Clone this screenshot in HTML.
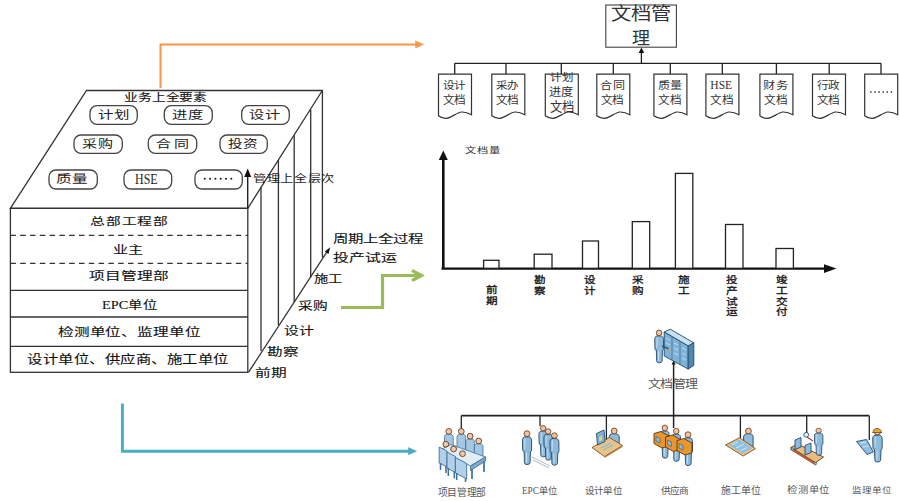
<!DOCTYPE html>
<html lang="zh-CN"><head><meta charset="utf-8">
<style>
html,body{margin:0;padding:0;background:#fff;}
body{width:900px;height:501px;overflow:hidden;position:relative;}
svg{position:absolute;left:0;top:0;}
.sf{font-family:"Liberation Serif",serif;}
.ss{font-family:"Liberation Sans",sans-serif;}
</style></head><body>
<svg width="900" height="501" viewBox="0 0 900 501">
<defs>
  <marker id="ah" markerWidth="8" markerHeight="8" refX="7" refY="4" orient="auto" markerUnits="userSpaceOnUse">
    <path d="M0,0 L8,4 L0,8 z" fill="#000"/>
  </marker>

  <g id="per">
    <path d="M2.6,6.3 C1,6.8 0.4,8.2 0.4,10.3 L0.7,19.8 C0.9,20.8 1.6,21.2 2.1,20.8 L2.4,31.8 C2.4,33.3 3.4,34.2 5,34 L7,33.6 C7.8,33.1 8,32.2 8,31 L8.3,21 C8.8,21.3 9.4,20.5 9.4,19.5 L9.4,10.3 C9.4,8.3 8.8,6.9 6.9,6.3 Z" fill="#8EBBDB" stroke="#1F4566" stroke-width="0.9"/>
    <path d="M3,8 L2.6,19 M4.5,22 L4.3,32" stroke="#C9E2F2" stroke-width="0.9" fill="none"/>
    <circle cx="4.9" cy="3.2" r="2.9" fill="#F3C39C" stroke="#5A3420" stroke-width="0.8"/>
  </g>
  <g id="head">
    <circle cx="0" cy="0" r="2.8" fill="#F3C39C" stroke="#5A3420" stroke-width="0.8"/>
  </g>
</defs>

<!-- ========== colored connector arrows ========== -->
<g fill="none" stroke-linejoin="miter">
  <path d="M160.5,88 V44.4 H417" stroke="#F79646" stroke-width="2"/>
  <path d="M415.5,40.9 L423.5,44.4 L415.5,47.9 Z" fill="#F79646" stroke="#F79646" stroke-width="0.6"/>
  <path d="M341,307.5 H382.5 V275.5 H420" stroke="#9BBB59" stroke-width="3.2"/>
  <path d="M412,270.5 L421.5,275.5 L412,280.5" stroke="#9BBB59" stroke-width="3.2"/>
  <path d="M122.4,403.5 V451.2 H410" stroke="#4BACC6" stroke-width="2.9"/>
  <path d="M408.5,447.6 L416.5,451.2 L408.5,454.8 Z" fill="#4BACC6" stroke="#4BACC6" stroke-width="0.6"/>
</g>

<!-- ========== cube ========== -->
<g fill="none" stroke="#333" stroke-width="1.3">
  <path d="M86.5,90.5 H322.3 L247.8,208.3 H10.4 Z"/>
  <rect x="10.4" y="208.3" width="237.4" height="164"/>
  <path d="M10.4,235.4 H247.8 M10.4,263.3 H247.8" stroke-dasharray="5.5,4.3"/>
  <path d="M10.4,290.3 H247.8 M10.4,317 H247.8 M10.4,346.3 H247.8"/>
  <path d="M261,187.3 V351 M278.4,160 V325 M294.2,135.5 V302.6 M310.7,109.5 V277.5 M322.4,91 V257.5"/>
  <path d="M248.5,372.3 L327.5,251"/>
</g>
<path d="M330.2,247.3 L328.5,253.9 L324.8,251.5 z" fill="#111"/>
<path d="M247.7,208 V174" stroke="#222" stroke-width="1.4"/>
<path d="M244.2,177 L247.7,168.5 L251.2,177 z" fill="#111"/>

<!-- ovals on top face -->
<g fill="none" stroke="#444" stroke-width="1.3">
  <rect x="90" y="105.7" width="47.3" height="18.6" rx="7"/>
  <rect x="164.3" y="105.7" width="48" height="18.6" rx="7"/>
  <rect x="241.7" y="105.7" width="47.6" height="18.6" rx="7"/>
  <rect x="74" y="135" width="48.3" height="18.3" rx="7"/>
  <rect x="148.3" y="135" width="48.4" height="18.3" rx="7"/>
  <rect x="220" y="135" width="47.3" height="18.3" rx="7"/>
  <rect x="49" y="170" width="48.3" height="19" rx="7"/>
  <rect x="124" y="170" width="47.7" height="19" rx="7"/>
  <rect x="195" y="170" width="47.3" height="19" rx="7"/>
</g>


<!-- front face text -->

<!-- ========== top doc hierarchy ========== -->
<g fill="none" stroke="#222" stroke-width="1.3">
  <rect x="605.8" y="5" width="70.6" height="42.2" stroke="#444" stroke-width="1.1"/>
  <path d="M454.7,63.3 H881 M641.4,63.3 V52"/>
  <path d="M454.7,63.3 V74 M506,63.3 V74 M561.3,63.3 V74 M613.3,63.3 V74 M670.3,63.3 V74 M722.3,63.3 V74 M776.4,63.3 V74 M829.2,63.3 V74 M881,63.3 V74"/>
</g>
<path d="M638.6,53 L641.4,47.6 L644.2,53 z" fill="#111"/>
<g fill="#fff" stroke="#333" stroke-width="1.2">
<path d="M438.5,74.2 H471.5 V114.7 C468.5,113 465.5,111.8 461.5,112 C456.5,112.5 451.5,118 446.5,118.3 C443.5,118.5 440.5,117.3 438.5,115.7 Z"/>
<path d="M491.8,74.2 H524.8 V114.7 C521.8,113 518.8,111.8 514.8,112 C509.8,112.5 504.8,118 499.8,118.3 C496.8,118.5 493.8,117.3 491.8,115.7 Z"/>
<path d="M545.3,74.2 H578.3 V114.7 C575.3,113 572.3,111.8 568.3,112 C563.3,112.5 558.3,118 553.3,118.3 C550.3,118.5 547.3,117.3 545.3,115.7 Z"/>
<path d="M596.8,74.2 H629.8 V114.7 C626.8,113 623.8,111.8 619.8,112 C614.8,112.5 609.8,118 604.8,118.3 C601.8,118.5 598.8,117.3 596.8,115.7 Z"/>
<path d="M653.9,74.2 H686.9 V114.7 C683.9,113 680.9,111.8 676.9,112 C671.9,112.5 666.9,118 661.9,118.3 C658.9,118.5 655.9,117.3 653.9,115.7 Z"/>
<path d="M705.9,74.2 H738.9 V114.7 C735.9,113 732.9,111.8 728.9,112 C723.9,112.5 718.9,118 713.9,118.3 C710.9,118.5 707.9,117.3 705.9,115.7 Z"/>
<path d="M759.9,74.2 H792.9 V114.7 C789.9,113 786.9,111.8 782.9,112 C777.9,112.5 772.9,118 767.9,118.3 C764.9,118.5 761.9,117.3 759.9,115.7 Z"/>
<path d="M812.5,74.2 H845.5 V114.7 C842.5,113 839.5,111.8 835.5,112 C830.5,112.5 825.5,118 820.5,118.3 C817.5,118.5 814.5,117.3 812.5,115.7 Z"/>
<path d="M864.7,74.2 H897.7 V114.7 C894.7,113 891.7,111.8 887.7,112 C882.7,112.5 877.7,118 872.7,118.3 C869.7,118.5 866.7,117.3 864.7,115.7 Z"/>
</g>
<!-- ========== chart ========== -->
<g stroke="#111" fill="none">
  <path d="M443.3,268.5 V158" stroke-width="2.6"/>
  <path d="M441.5,268.6 H826" stroke-width="2.4"/>
</g>
<path d="M438.8,160 L443.3,150.5 L447.8,160 z" fill="#111"/>
<path d="M824,264.3 L836.5,268.6 L824,272.9 z" fill="#111"/>
<g fill="#fff" stroke="#222" stroke-width="1.3">
  <rect x="483.6" y="260.3" width="15.4" height="8"/>
  <rect x="534.2" y="254.2" width="17.8" height="14"/>
  <rect x="582.5" y="241" width="16" height="27.3"/>
  <rect x="632.3" y="221.6" width="17.4" height="46.7"/>
  <rect x="675.4" y="173.4" width="17.4" height="94.9"/>
  <rect x="725.5" y="224.5" width="17.5" height="43.8"/>
  <rect x="776" y="248.5" width="17.4" height="19.8"/>
</g>

<!-- ========== lower org chart ========== -->
<g stroke="#222" fill="none">
  <path d="M461.3,415.7 H869.3" stroke-width="1.8"/>
  <path d="M673.6,428 V364" stroke-width="1.5"/>
  <path d="M461.3,415.7 V429 M540,415.7 V426 M606.4,415.7 V441 M740.4,415.7 V438 M806.7,415.7 V434 M869.3,415.7 V440" stroke-width="1.3"/>
</g>
<path d="M671.6,364.5 L673.6,360.5 L675.6,364.5 z" fill="#111"/>

<!-- ========== icons ========== -->
<!-- doc mgmt: person + cabinet -->
<g>
  <path d="M664.2,332 L670.3,329.2 L693.8,342.8 L688.2,346 Z" fill="#C9E1EF" stroke="#1F4A6B" stroke-width="0.9"/>
  <path d="M664.2,332 L688.2,346 L688.2,369.1 L664.2,356 Z" fill="#7FB2D4" stroke="#1F4A6B" stroke-width="0.9"/>
  <path d="M688.2,346 L693.8,342.8 L693.8,365.4 L688.2,369.1 Z" fill="#4F87AE" stroke="#1F4A6B" stroke-width="0.9"/>
  <path d="M672,336.5 V360.3 M680,341.2 V364.8" stroke="#3F7399" stroke-width="0.8"/>
  <path d="M666,338 L670,340 M666,343 L670,345 M666,348 L670,350 M674,343 L678,345 M674,348 L678,350 M674,353 L678,355 M682,348 L686,350 M682,353 L686,355 M682,358 L686,360" stroke="#B5D5EA" stroke-width="1.1"/>
  <use href="#per" transform="translate(654.3,329.8) scale(0.98,0.97)"/>
  <path d="M662,346 L669,349" stroke="#2B5676" stroke-width="1.6"/>
  <circle cx="669.5" cy="349.2" r="1.1" fill="#E89A4A"/>
</g>

<!-- 项目管理部: meeting -->
<g stroke-linejoin="round">
  <path d="M444.5,448 L444.5,437.5 C444.5,434.8 446,434 448.8,434 C451.6,434 453.2,434.8 453.2,437.5 L453.2,449 Z" fill="#A4C8E4" stroke="#3F6F98" stroke-width="0.8"/>
  <path d="M457,448 L457,437.5 C457,434.8 458.5,434 461.3,434 C464.1,434 465.6,434.8 465.6,437.5 L465.6,452 Z" fill="#A4C8E4" stroke="#3F6F98" stroke-width="0.8"/>
  <path d="M465.8,454 L465.8,442.3 C465.8,439.6 467.3,438.8 470.1,438.8 C472.9,438.8 474.4,439.6 474.4,442.3 L474.4,456 Z" fill="#A4C8E4" stroke="#3F6F98" stroke-width="0.8"/>
  <path d="M474.4,458 L474.4,447.1 C474.4,444.4 475.9,443.6 478.7,443.6 C481.5,443.6 483,444.4 483,447.1 L483,460 Z" fill="#A4C8E4" stroke="#3F6F98" stroke-width="0.8"/>
  <circle cx="448.8" cy="431.4" r="2.9" fill="#F4C9A2" stroke="#4A2A1A" stroke-width="0.8"/>
  <circle cx="461.3" cy="431.4" r="2.9" fill="#F4C9A2" stroke="#4A2A1A" stroke-width="0.8"/>
  <circle cx="470.1" cy="436.2" r="2.9" fill="#F4C9A2" stroke="#4A2A1A" stroke-width="0.8"/>
  <circle cx="478.7" cy="441" r="2.9" fill="#F4C9A2" stroke="#4A2A1A" stroke-width="0.8"/>
  <path d="M451,444.5 L485.5,457 L470.5,466 L440,450 Z" fill="#E2EDF6" stroke="#4A7DA6" stroke-width="0.9"/>
  <path d="M470.5,466 L485.5,457 L485.5,461 L470.5,470.5 Z" fill="#7EAAD0" stroke="#3A6A92" stroke-width="0.8"/>
  <path d="M484,461 V472 M472,469 V479" stroke="#3E6F98" stroke-width="1.7"/>
  <path d="M439.2,447 L447,451 L447,467 L439.2,463 Z" fill="#B2D0EA" stroke="#3E6F98" stroke-width="0.9"/>
  <path d="M447,452 L455.4,456.5 L455.4,472.5 L447,468 Z" fill="#B2D0EA" stroke="#3E6F98" stroke-width="0.9"/>
  <path d="M455.4,457.5 L466.7,463.5 L466.7,479 L455.4,473 Z" fill="#B2D0EA" stroke="#3E6F98" stroke-width="0.9"/>
  <path d="M440.5,463 V470 M446,466 V473 M448.3,468 V476 M454.3,471.5 V478.5 M456.7,473 V480 M465.5,478.5 V482" stroke="#3E6F98" stroke-width="1.5"/>
  <circle cx="445.8" cy="444.2" r="2.9" fill="#F4C9A2" stroke="#4A2A1A" stroke-width="0.8"/>
  <circle cx="453.6" cy="449" r="2.9" fill="#F4C9A2" stroke="#4A2A1A" stroke-width="0.8"/>
  <circle cx="462.5" cy="453.7" r="2.9" fill="#F4C9A2" stroke="#4A2A1A" stroke-width="0.8"/>
</g>

<!-- EPC -->
<g>
  <path d="M532,457 L550,466 M533,460 L549,468" stroke="#9AA8B4" stroke-width="0.8"/>
  <use href="#per" transform="translate(522,430.5) scale(1.02,1.0)"/>
  <use href="#per" transform="translate(538.5,425.2) scale(0.95,0.93)"/>
  <use href="#per" transform="translate(543.5,428.5) scale(0.95,0.93)"/>
  <use href="#per" transform="translate(549.5,432.5) scale(1.0,0.96)"/>
</g>

<!-- 设计单位 -->
<g>
  <path d="M609.2,447.6 L609.2,436.6 C609.2,434.1 612.7,433.6 614.2,433.6 C615.7,433.6 619.2,434.1 619.2,436.6 L619.2,447.6 Z" fill="#8EBBDB" stroke="#1F4566" stroke-width="0.9"/><circle cx="614.2" cy="431.0" r="2.9" fill="#F3C39C" stroke="#5A3420" stroke-width="0.8"/>
  <path d="M592,447.5 L609.5,437.5 L622.5,445.5 L604.5,456.5 Z" fill="#E9C48A" stroke="#7A4E22" stroke-width="0.9"/>
  <path d="M604.5,456.5 L622.5,445.5 L622.5,447 L604.5,458 Z" fill="#B07A3A"/>
  <path d="M596.5,433.5 L604,430 L605,441.5 L597.5,445 Z" fill="#7DB0D6" stroke="#234C70" stroke-width="0.9"/>
  <path d="M599,437 L602,435.5 L602.3,440 L599.3,441.5Z" fill="#E8D070"/>
  <path d="M601,448 L611,443 M603,450 L613,445" stroke="#8DB8D8" stroke-width="1.2"/>
</g>

<!-- 供应商 -->
<g>
  <use href="#per" transform="translate(660.2,424.8) scale(0.95,0.98)"/>
  <use href="#per" transform="translate(671.6,428) scale(0.95,0.98)"/>
  <use href="#per" transform="translate(683.1,431.5) scale(1.0,1.0)"/>
  <path d="M654,433.5 L661,431.5 L669,436 L669,446 L662,448 L654,443.5 Z" fill="#EA952E" stroke="#5E3308" stroke-width="0.9"/>
  <path d="M665.5,437 L672.5,435 L680.5,439.5 L680.5,449.5 L673.5,451.5 L665.5,447 Z" fill="#EA952E" stroke="#5E3308" stroke-width="0.9"/>
  <path d="M677,440.5 L684,438.5 L692,443 L692,453 L685,455 L677,450.5 Z" fill="#EA952E" stroke="#5E3308" stroke-width="0.9"/>
  <path d="M656,436.5 L660,438.5 L660,443 L656,441Z M667.5,440 L671.5,442 L671.5,446.5 L667.5,444.5Z M679,443.5 L683,445.5 L683,450 L679,448Z" fill="#8EBBDB" stroke="#1F4566" stroke-width="0.5"/>
</g>

<!-- 施工单位 -->
<g>
  <path d="M743.6,447.1 L743.6,436.6 C743.6,434.1 746.9,433.6 748.4,433.6 C749.9,433.6 753.1,434.1 753.1,436.6 L753.1,447.1 Z" fill="#8EBBDB" stroke="#1F4566" stroke-width="0.9"/><circle cx="748.4" cy="431.0" r="2.9" fill="#F3C39C" stroke="#5A3420" stroke-width="0.8"/>
  <path d="M725.5,445 L739.6,437.7 L755.4,448.7 L743.2,456 Z" fill="#E9C48A" stroke="#7A4E22" stroke-width="0.9"/>
  <path d="M728.5,445 L739.6,439.5 L752,448.2 L742.8,453.5 Z" fill="#8FC0E3"/>
  <path d="M732,445 L738,442 M736,448 L744,444 M740,451 L747,447.5" stroke="#DCEEFA" stroke-width="0.9"/>
</g>

<!-- 检测单位 -->
<g>
  <path d="M790.9,447.5 L798,444 L823.5,457 L815.5,462.8 Z" fill="#E7BE7E" stroke="#5A3A20" stroke-width="0.9"/>
  <path d="M790.9,447.5 L815.5,462.8 L815.5,465 L790.9,449.8 Z" fill="#E05A2A" stroke="#5A3A20" stroke-width="0.6"/>
  <circle cx="792.5" cy="449" r="1.3" fill="#8EBBDB" stroke="#2B5676" stroke-width="0.5"/>
  <circle cx="815.5" cy="463.5" r="1.3" fill="#8EBBDB" stroke="#2B5676" stroke-width="0.5"/>
  <path d="M795,440 L801,437.5 L801,447 L795,449.5 Z" fill="#8EBBDB" stroke="#234C70" stroke-width="0.9"/>
  <path d="M805,445.5 L811,443 L811,452.5 L805,455 Z" fill="#8EBBDB" stroke="#234C70" stroke-width="0.9"/>
  <use href="#per" transform="translate(814,428) scale(0.95,0.8)"/>
  <path d="M807,437 L813,441" stroke="#C0392B" stroke-width="1.2"/>
  <circle cx="806.2" cy="434.8" r="2.4" fill="#EAF4FB" stroke="#234C70" stroke-width="0.9"/>
</g>

<!-- 监理单位 -->
<g>
  <use href="#per" transform="translate(872.3,429) scale(1.05,0.97)"/>
  <path d="M873.2,431.5 C873.2,427.5 881,427.5 881,431.5 L882,432.5 L872.5,432.5 Z" fill="#E5A92E" stroke="#6B4A10" stroke-width="0.8"/>
  <path d="M856.5,441.5 L866.5,439.5 L873.4,452 L867,454.4 Z" fill="#8FC0E3" stroke="#234C70" stroke-width="0.9"/>
  <path d="M860,443 L866,442 M863,447 L869,446" stroke="#DCEEFA" stroke-width="0.8"/>
</g>
<g id="txt">
<text class="sf" transform="translate(124.4 101.15) scale(1.388 1)" font-size="9.89" font-weight="normal" letter-spacing="0" fill="#111" stroke="#111" stroke-width="0.1">业务上全要素</text>
<text class="sf" transform="translate(98.0 118.5) scale(1.311 1)" font-size="11.83" font-weight="normal" letter-spacing="0" fill="#222">计划</text>
<text class="sf" transform="translate(171.9 118.5) scale(1.297 1)" font-size="11.83" font-weight="normal" letter-spacing="0" fill="#222">进度</text>
<text class="sf" transform="translate(249.3 118.5) scale(1.292 1)" font-size="11.83" font-weight="normal" letter-spacing="0" fill="#222">设计</text>
<text class="sf" transform="translate(82.25 147.95) scale(1.38 1)" font-size="10.91" font-weight="normal" letter-spacing="0.72" fill="#222">采购</text>
<text class="sf" transform="translate(156.15 147.95) scale(1.38 1)" font-size="10.91" font-weight="normal" letter-spacing="1.88" fill="#222">合同</text>
<text class="sf" transform="translate(227.95 147.95) scale(1.339 1)" font-size="10.91" font-weight="normal" letter-spacing="0" fill="#222">投资</text>
<text class="sf" transform="translate(56.2 182.85) scale(1.38 1)" font-size="11.32" font-weight="normal" letter-spacing="0.04" fill="#222">质量</text>
<text class="sf" transform="translate(135.1 183.75) scale(0.877 1)" font-size="13.62" font-weight="normal" letter-spacing="0" fill="#222">HSE</text>
<text class="sf" transform="translate(253.25 182.2) scale(1.346 1)" font-size="9.79" font-weight="normal" letter-spacing="0" fill="#222">管理上全层次</text>
<text class="sf" transform="translate(90.1 224.9) scale(1.42 1)" font-size="10.4" font-weight="normal" letter-spacing="0.49" fill="#111" stroke="#111" stroke-width="0.1">总部工程部</text>
<text class="sf" transform="translate(113.25 254.3) scale(1.4 1)" font-size="10.81" font-weight="normal" letter-spacing="0" fill="#111" stroke="#111" stroke-width="0.1">业主</text>
<text class="sf" transform="translate(89.05 279.9) scale(1.374 1)" font-size="11.42" font-weight="normal" letter-spacing="0" fill="#111" stroke="#111" stroke-width="0.1">项目管理部</text>
<text class="sf" transform="translate(102.0 308.8) scale(1.251 1)" font-size="11.42" font-weight="normal" letter-spacing="0" fill="#111" stroke="#111" stroke-width="0.1">EPC单位</text>
<text class="sf" transform="translate(57.6 335.6) scale(1.363 1)" font-size="11.42" font-weight="normal" letter-spacing="0" fill="#111" stroke="#111" stroke-width="0.1">检测单位、监理单位</text>
<text class="sf" transform="translate(27.1 364.3) scale(1.257 1)" font-size="12.24" font-weight="normal" letter-spacing="0" fill="#111" stroke="#111" stroke-width="0.1">设计单位、供应商、施工单位</text>
<text class="sf" transform="translate(254.75 377.45) scale(1.364 1)" font-size="11.53" font-weight="normal" letter-spacing="0" fill="#111" stroke="#111" stroke-width="0.1">前期</text>
<text class="sf" transform="translate(267.3 355.85) scale(1.358 1)" font-size="11.53" font-weight="normal" letter-spacing="0" fill="#111" stroke="#111" stroke-width="0.1">勘察</text>
<text class="sf" transform="translate(284.45 335.1) scale(1.308 1)" font-size="11.42" font-weight="normal" letter-spacing="0" fill="#111" stroke="#111" stroke-width="0.1">设计</text>
<text class="sf" transform="translate(298.15 310.35) scale(1.274 1)" font-size="11.53" font-weight="normal" letter-spacing="0" fill="#111" stroke="#111" stroke-width="0.1">采购</text>
<text class="sf" transform="translate(313.6 282.95) scale(1.32 1)" font-size="10.91" font-weight="normal" letter-spacing="0" fill="#111" stroke="#111" stroke-width="0.1">施工</text>
<text class="sf" transform="translate(333.2 243.3) scale(1.373 1)" font-size="11.22" font-weight="normal" letter-spacing="0" fill="#111" stroke="#111" stroke-width="0.1">周期上全过程</text>
<text class="sf" transform="translate(333.25 262.25) scale(1.333 1)" font-size="11.93" font-weight="normal" letter-spacing="0" fill="#111" stroke="#111" stroke-width="0.1">投产试运</text>
<text class="ss" transform="translate(611.05 19.95) scale(1.139 1)" font-size="17.85" font-weight="300" letter-spacing="0" fill="#333">文档管</text>
<text class="ss" transform="translate(631.5 43.5) scale(1.05 1)" font-size="17.14" font-weight="300" letter-spacing="0" fill="#333">理</text>
<text class="ss" transform="translate(465.0 152.5) scale(1.35 1)" font-size="8.36" font-weight="normal" letter-spacing="0.4" fill="#333">文档量</text>
<text class="ss" transform="translate(647.75 387.65) scale(1.092 1)" font-size="11.93" font-weight="300" letter-spacing="0" fill="#555">文档管理</text>
<text class="sf" transform="translate(437.5 495.75) scale(0.948 1)" font-size="10.3" font-weight="normal" letter-spacing="0" fill="#555">项目管理部</text>
<text class="sf" transform="translate(521.9 493.9) scale(0.989 1)" font-size="9.38" font-weight="normal" letter-spacing="0" fill="#555">EPC单位</text>
<text class="sf" transform="translate(584.9 493.5) scale(1.046 1)" font-size="9.18" font-weight="normal" letter-spacing="0" fill="#555">设计单位</text>
<text class="sf" transform="translate(660.5 493.5) scale(1.059 1)" font-size="9.18" font-weight="normal" letter-spacing="0" fill="#555">供应商</text>
<text class="sf" transform="translate(720.7 493.55) scale(1.022 1)" font-size="9.69" font-weight="normal" letter-spacing="0" fill="#555">施工单位</text>
<text class="sf" transform="translate(787.15 493.15) scale(1.157 1)" font-size="8.87" font-weight="normal" letter-spacing="0" fill="#555">检测单位</text>
<text class="sf" transform="translate(852.0 492.85) scale(1.23 1)" font-size="7.85" font-weight="normal" letter-spacing="0" fill="#555">监理单位</text>
<text class="ss" transform="translate(442.95 89.05) scale(1.105 1)" font-size="10.51" font-weight="normal" letter-spacing="0" fill="#333">设计</text>
<text class="ss" transform="translate(442.95 103.85) scale(1.047 1)" font-size="11.12" font-weight="normal" letter-spacing="0" fill="#333">文档</text>
<text class="ss" transform="translate(495.75 89.05) scale(1.103 1)" font-size="10.51" font-weight="normal" letter-spacing="0" fill="#333">采办</text>
<text class="ss" transform="translate(496.25 103.85) scale(1.047 1)" font-size="11.12" font-weight="normal" letter-spacing="0" fill="#333">文档</text>
<text class="ss" transform="translate(600.25 89.05) scale(1.15 1)" font-size="10.51" font-weight="normal" letter-spacing="0.91" fill="#333">合同</text>
<text class="ss" transform="translate(601.25 103.85) scale(1.047 1)" font-size="11.12" font-weight="normal" letter-spacing="0" fill="#333">文档</text>
<text class="ss" transform="translate(657.85 89.05) scale(1.153 1)" font-size="10.51" font-weight="normal" letter-spacing="0" fill="#333">质量</text>
<text class="ss" transform="translate(658.35 103.85) scale(1.047 1)" font-size="11.12" font-weight="normal" letter-spacing="0" fill="#333">文档</text>
<text class="sf" transform="translate(710.35 89.25) scale(0.888 1)" font-size="13.0" font-weight="normal" letter-spacing="0" fill="#333">HSE</text>
<text class="ss" transform="translate(710.35 103.85) scale(1.047 1)" font-size="11.12" font-weight="normal" letter-spacing="0" fill="#333">文档</text>
<text class="ss" transform="translate(763.35 89.05) scale(1.15 1)" font-size="10.51" font-weight="normal" letter-spacing="0.91" fill="#333">财务</text>
<text class="ss" transform="translate(764.35 103.85) scale(1.047 1)" font-size="11.12" font-weight="normal" letter-spacing="0" fill="#333">文档</text>
<text class="ss" transform="translate(816.95 89.05) scale(1.105 1)" font-size="10.51" font-weight="normal" letter-spacing="0" fill="#333">行政</text>
<text class="ss" transform="translate(816.95 103.85) scale(1.047 1)" font-size="11.12" font-weight="normal" letter-spacing="0" fill="#333">文档</text>
<text class="ss" transform="translate(550.05 81.3) scale(1.15 1)" font-size="10.0" font-weight="normal" letter-spacing="0.28" fill="#333">计划</text>
<text class="ss" transform="translate(549.05 96.05) scale(1.041 1)" font-size="11.73" font-weight="normal" letter-spacing="0" fill="#333">进度</text>
<text class="ss" transform="translate(550.05 110.7) scale(0.971 1)" font-size="12.65" font-weight="normal" letter-spacing="0" fill="#333">文档</text>
<text class="ss" transform="translate(492.0 292.98) scale(1.25 1)" text-anchor="middle" font-size="9.3" fill="#111" stroke="#111" stroke-width="0.25">前</text>
<text class="ss" transform="translate(492.0 303.68) scale(1.25 1)" text-anchor="middle" font-size="9.3" fill="#111" stroke="#111" stroke-width="0.25">期</text>
<text class="ss" transform="translate(540.3 282.88) scale(1.25 1)" text-anchor="middle" font-size="9.3" fill="#111" stroke="#111" stroke-width="0.25">勘</text>
<text class="ss" transform="translate(540.3 293.58) scale(1.25 1)" text-anchor="middle" font-size="9.3" fill="#111" stroke="#111" stroke-width="0.25">察</text>
<text class="ss" transform="translate(589.7 282.88) scale(1.25 1)" text-anchor="middle" font-size="9.3" fill="#111" stroke="#111" stroke-width="0.25">设</text>
<text class="ss" transform="translate(589.7 293.58) scale(1.25 1)" text-anchor="middle" font-size="9.3" fill="#111" stroke="#111" stroke-width="0.25">计</text>
<text class="ss" transform="translate(638.0 283.18) scale(1.25 1)" text-anchor="middle" font-size="9.3" fill="#111" stroke="#111" stroke-width="0.25">采</text>
<text class="ss" transform="translate(638.0 293.88) scale(1.25 1)" text-anchor="middle" font-size="9.3" fill="#111" stroke="#111" stroke-width="0.25">购</text>
<text class="ss" transform="translate(684.5 283.18) scale(1.25 1)" text-anchor="middle" font-size="9.3" fill="#111" stroke="#111" stroke-width="0.25">施</text>
<text class="ss" transform="translate(684.5 293.88) scale(1.25 1)" text-anchor="middle" font-size="9.3" fill="#111" stroke="#111" stroke-width="0.25">工</text>
<text class="ss" transform="translate(732.5 283.18) scale(1.25 1)" text-anchor="middle" font-size="9.3" fill="#111" stroke="#111" stroke-width="0.25">投</text>
<text class="ss" transform="translate(732.5 293.88) scale(1.25 1)" text-anchor="middle" font-size="9.3" fill="#111" stroke="#111" stroke-width="0.25">产</text>
<text class="ss" transform="translate(732.5 304.58) scale(1.25 1)" text-anchor="middle" font-size="9.3" fill="#111" stroke="#111" stroke-width="0.25">试</text>
<text class="ss" transform="translate(732.5 315.28) scale(1.25 1)" text-anchor="middle" font-size="9.3" fill="#111" stroke="#111" stroke-width="0.25">运</text>
<text class="ss" transform="translate(782.5 283.18) scale(1.25 1)" text-anchor="middle" font-size="9.3" fill="#111" stroke="#111" stroke-width="0.25">竣</text>
<text class="ss" transform="translate(782.5 293.88) scale(1.25 1)" text-anchor="middle" font-size="9.3" fill="#111" stroke="#111" stroke-width="0.25">工</text>
<text class="ss" transform="translate(782.5 304.58) scale(1.25 1)" text-anchor="middle" font-size="9.3" fill="#111" stroke="#111" stroke-width="0.25">交</text>
<text class="ss" transform="translate(782.5 315.28) scale(1.25 1)" text-anchor="middle" font-size="9.3" fill="#111" stroke="#111" stroke-width="0.25">付</text>
<circle cx="204.8" cy="178.7" r="1.05" fill="#222"/><circle cx="210.1" cy="178.7" r="1.05" fill="#222"/><circle cx="215.4" cy="178.7" r="1.05" fill="#222"/><circle cx="220.7" cy="178.7" r="1.05" fill="#222"/><circle cx="226.0" cy="178.7" r="1.05" fill="#222"/><circle cx="231.3" cy="178.7" r="1.05" fill="#222"/>
<circle cx="870.9" cy="92" r="0.85" fill="#222"/><circle cx="875.0" cy="92" r="0.85" fill="#222"/><circle cx="879.1" cy="92" r="0.85" fill="#222"/><circle cx="883.2" cy="92" r="0.85" fill="#222"/><circle cx="887.3" cy="92" r="0.85" fill="#222"/><circle cx="891.4" cy="92" r="0.85" fill="#222"/>
</g>
</svg>
</body></html>
